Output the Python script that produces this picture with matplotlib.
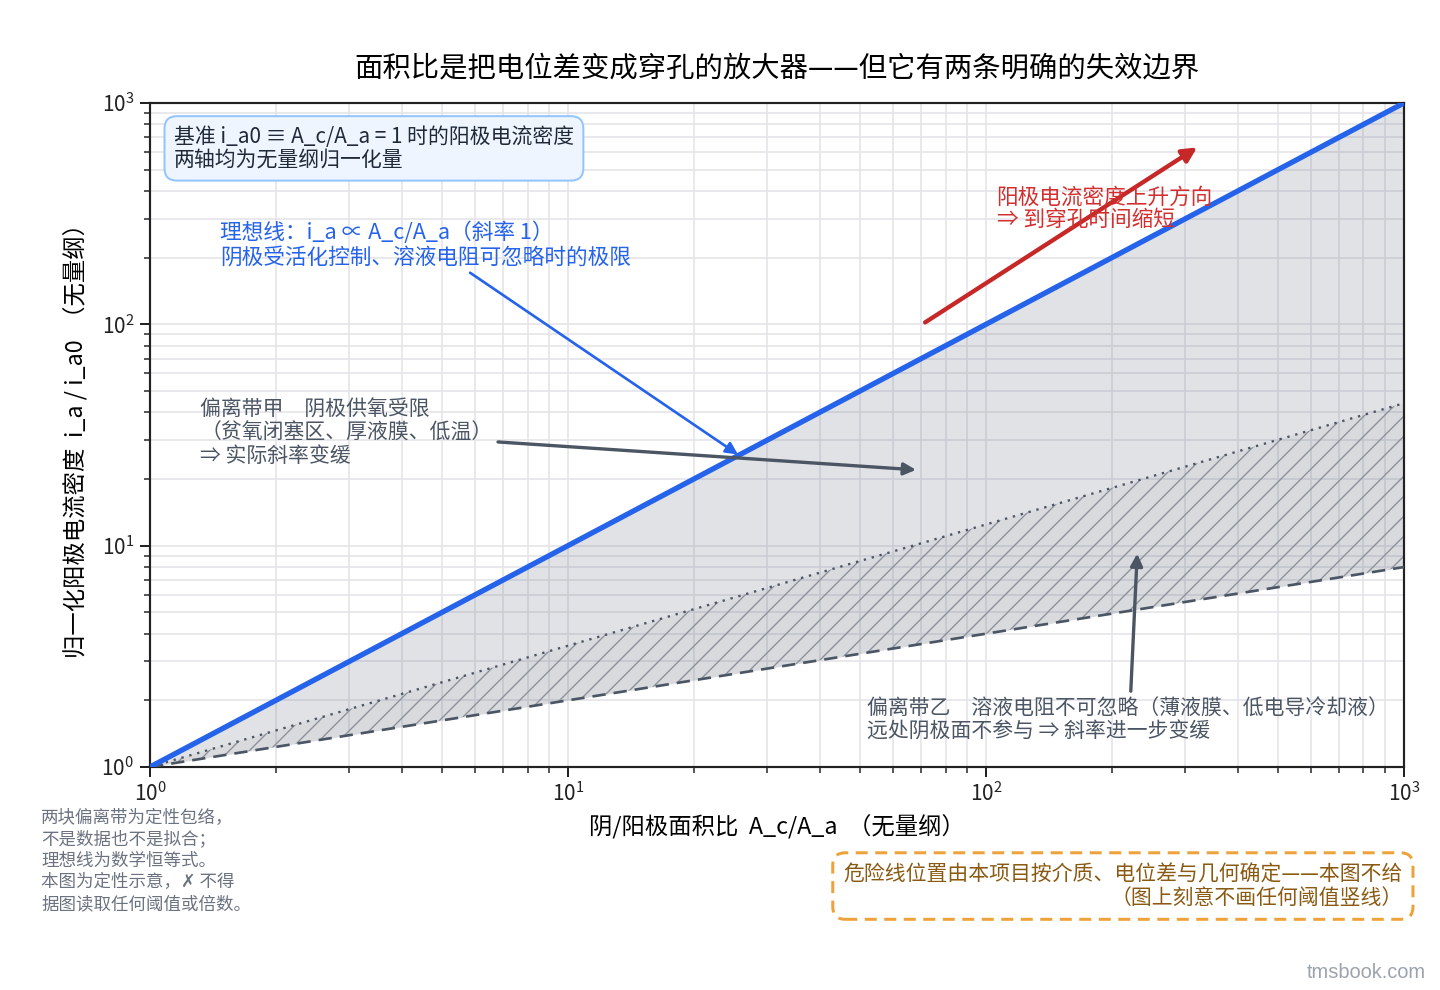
import matplotlib
matplotlib.use("Agg")
import matplotlib.pyplot as plt
import numpy as np

plt.rcParams['font.family'] = ['Noto Sans CJK SC', 'DejaVu Sans']
plt.rcParams['mathtext.fontset'] = 'custom'
plt.rcParams['mathtext.rm'] = 'Noto Sans CJK SC'
plt.rcParams['mathtext.it'] = 'Noto Sans CJK SC'
plt.rcParams['hatch.linewidth'] = 0.8

# ---- data (qualitative envelopes, endpoints on log-log) ----
area_ratio = [1, 1000]
ideal_line = [1, 1000]          # slope 1
band_a_lower = [1, 44]          # dotted boundary
band_b_lower = [1, 8]           # dashed boundary

title = "面积比是把电位差变成穿孔的放大器——但它有两条明确的失效边界"
xlabel = "阴/阳极面积比  A_c/A_a  （无量纲）"
ylabel = "归一化阳极电流密度  i_a / i_a0  （无量纲）"

fig = plt.figure(figsize=(12, 8.25), dpi=120)
ax = fig.add_axes([0.1042, 0.2253, 0.8708, 0.6707])

ax.set_xscale('log')
ax.set_yscale('log')
ax.set_xlim(1, 1000)
ax.set_ylim(1, 1000)

ax.grid(True, which='major', color='#e4e4ea', lw=1.0, zorder=0)
ax.grid(True, which='minor', color='#e4e4ea', lw=1.0, zorder=0)
ax.set_axisbelow(True)

# band A: between ideal and dashed
ax.fill_between(area_ratio, ideal_line, band_b_lower, color='#6b7280', alpha=0.2,
                lw=0, zorder=1)
# band B: hatched between dotted and dashed
ax.fill_between(area_ratio, band_a_lower, band_b_lower, facecolor=(0.42, 0.45, 0.5, 0.07),
                edgecolor='#8a8f98', hatch='//', lw=0, zorder=2)

ax.plot(area_ratio, ideal_line, color='#2563eb', lw=3.2, zorder=5, solid_capstyle='butt')
ax.plot(area_ratio, band_a_lower, color='#4b5563', lw=1.4, ls=(0, (1, 2.5)), zorder=4)
ax.plot(area_ratio, band_b_lower, color='#4b5563', lw=1.6, ls=(0, (5, 3)), zorder=4)

for s in ax.spines.values():
    s.set_linewidth(1.3)
    s.set_color('#222222')
ax.tick_params(which='major', length=6, width=1.2, labelsize=12.5, colors='#222222')
ax.tick_params(which='minor', length=3.5, width=0.9, colors='#222222')

ax.set_xlabel(xlabel, fontsize=14, labelpad=5)
ax.set_ylabel(ylabel, fontsize=14, labelpad=8)
ax.set_title(title, fontsize=17, pad=16)

# top-left info box
ax.text(0.019, 0.966, "基准 i_a0 ≡ A_c/A_a = 1 时的阳极电流密度\n两轴均为无量纲归一化量",
        transform=ax.transAxes, fontsize=12.5, color='#1f2937', va='top', ha='left',
        linespacing=1.1, zorder=10,
        bbox=dict(boxstyle='round,pad=0.45,rounding_size=0.6', facecolor='#eef5ff',
                  edgecolor='#93c5fd', lw=1.2))

# ideal line annotation
ax.text(1.47, 290, "理想线：i_a ∝ A_c/A_a（斜率 1）\n阴极受活化控制、溶液电阻可忽略时的极限",
        fontsize=13, color='#2563eb', va='top', ha='left', linespacing=1.1, zorder=10)
ax.annotate('', xy=(25.5, 25.8), xytext=(5.83, 171),
            arrowprops=dict(arrowstyle='-|>', color='#2563eb', lw=1.6,
                            mutation_scale=15, shrinkA=0, shrinkB=0), zorder=9)

# band A annotation
ax.text(1.32, 46, "偏离带甲　阴极供氧受限\n（贫氧闭塞区、厚液膜、低温）\n⇒ 实际斜率变缓",
        fontsize=12.5, color='#4b5563', va='top', ha='left', linespacing=1.05, zorder=10)
ax.annotate('', xy=(68, 22), xytext=(6.8, 29.4),
            arrowprops=dict(arrowstyle='-|>', color='#4b5563', lw=2.0,
                            mutation_scale=15, shrinkA=0, shrinkB=0), zorder=9)

# red arrow
ax.annotate('', xy=(320, 630), xytext=(71.5, 102),
            arrowprops=dict(arrowstyle='-|>', color='#c62828', lw=2.6,
                            mutation_scale=18, shrinkA=0, shrinkB=0), zorder=9)
ax.text(106, 420, "阳极电流密度上升方向\n⇒ 到穿孔时间缩短",
        fontsize=13, color='#d32f2f', va='top', ha='left', linespacing=1.0, zorder=10)

# band B annotation
ax.annotate('', xy=(230, 9.2), xytext=(222, 2.2),
            arrowprops=dict(arrowstyle='-|>', color='#4b5563', lw=2.0,
                            mutation_scale=15, shrinkA=0, shrinkB=0), zorder=9)
ax.text(52, 2.05, "偏离带乙　溶液电阻不可忽略（薄液膜、低电导冷却液）\n远处阴极面不参与 ⇒ 斜率进一步变缓",
        fontsize=12.5, color='#4b5563', va='top', ha='left', linespacing=1.05, zorder=10)

# bottom-left note
fig.text(0.0285, 0.183, "两块偏离带为定性包络，\n不是数据也不是拟合；\n理想线为数学恒等式。\n本图为定性示意，✗ 不得\n据图读取任何阈值或倍数。",
         fontsize=10.5, color='#6b7280', va='top', ha='left', linespacing=1.25)

# bottom-right dashed box
fig.text(0.974, 0.105, "危险线位置由本项目按介质、电位差与几何确定——本图不给\n（图上刻意不画任何阈值竖线）",
         fontsize=12.5, color='#8a5a12', va='center', ha='right', multialignment='right',
         linespacing=1.1,
         bbox=dict(boxstyle='round,pad=0.5,rounding_size=0.6', facecolor='white',
                   edgecolor='#eea23b', lw=1.8, ls=(0, (4, 2.5))))

fig.text(0.99, 0.008, "tmsbook.com", fontsize=12, color='#9ca3af', ha='right', va='bottom',
         family='Liberation Sans')

fig.savefig('out.png', dpi=120)
